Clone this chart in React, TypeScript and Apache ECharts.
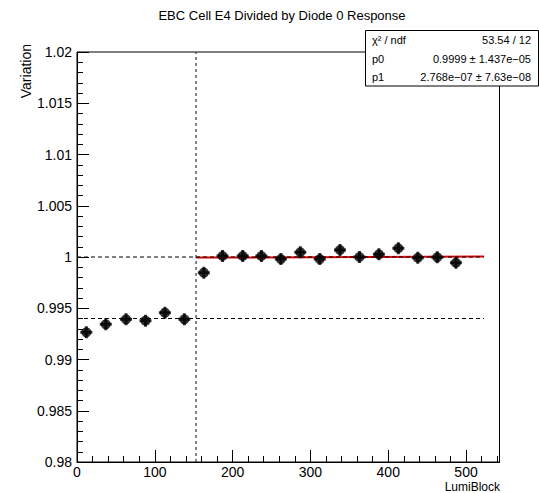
import React, { useEffect, useRef } from "react";
import * as echarts from "echarts";

const lumiBlocks = [12, 37, 63, 88, 113, 138, 163, 187, 213, 237, 262, 287, 312, 338, 363, 388, 413, 438, 463, 487];
const variation = [0.99265, 0.99343, 0.99392, 0.99379, 0.99457, 0.99392, 0.99847, 1.0001, 1.0001, 1.0001, 0.9998, 1.00046, 0.9998, 1.00068, 1.0, 1.00026, 1.00085, 0.99993, 0.99997, 0.99944];
const fitLine = [[153, 0.99994], [523, 1.00004]];
const refLevels = [1.0, 0.994];
const refXStart = 0;
const refXEnd = 523;
const cutLumiBlock = 153;
const statsRows = [
  ["χ² / ndf", "53.54 / 12"],
  ["p0", "0.9999 ± 1.437e−05"],
  ["p1", "2.768e−07 ± 7.63e−08"],
];
const titleText = "EBC Cell E4 Divided by Diode 0 Response";
const xTitle = "LumiBlock";
const yTitle = "Variation";

const FONT = "Liberation Sans, Arial, Helvetica, sans-serif";

export default function App() {
  const ref = useRef<HTMLDivElement>(null);
  useEffect(() => {
    if (!ref.current) return;
    const chart = echarts.init(ref.current, undefined, { renderer: "svg" });
    const pts = lumiBlocks.map((x, i) => [x, variation[i]]);
    const dashedSeries: any[] = refLevels.map((lv) => ({
      type: "line",
      data: [[refXStart, lv], [refXEnd, lv]],
      symbol: "none",
      lineStyle: { color: "#000", width: 1, type: [4, 3] },
      z: 4,
      silent: true,
    }));
    dashedSeries.push({
      type: "line",
      data: [[cutLumiBlock, 0.98], [cutLumiBlock, 1.02]],
      symbol: "none",
      lineStyle: { color: "#333", width: 1.2, type: [3, 3] },
      z: 4,
      silent: true,
    });
    const statsX = 365, statsY = 30, statsW = 173, rowH = 18.5;
    const graphics: any[] = [
      {
        type: "text",
        x: 282,
        y: 15,
        style: { text: titleText, font: `13px ${FONT}`, fill: "#000", align: "center", verticalAlign: "middle" },
      },
      {
        type: "text",
        x: 26,
        y: 44,
        rotation: Math.PI / 2,
        style: { text: yTitle, font: `14px ${FONT}`, fill: "#000", align: "right", verticalAlign: "middle" },
      },
      {
        type: "text",
        x: 500,
        y: 481,
        style: { text: xTitle, font: `12px ${FONT}`, fill: "#000", align: "right", verticalAlign: "top" },
      },
      {
        type: "rect",
        shape: { x: statsX + 0.5, y: statsY + 0.5, width: statsW, height: rowH * 3 },
        style: { fill: "#fff", stroke: "#000", lineWidth: 1 },
        z: 10,
      },
    ];
    statsRows.forEach((r, i) => {
      graphics.push({
        type: "text",
        x: statsX + 7,
        y: statsY + rowH * i + rowH / 2 + 1,
        z: 11,
        style: { text: r[0], font: `11px ${FONT}`, fill: "#000", align: "left", verticalAlign: "middle" },
      });
      graphics.push({
        type: "text",
        x: statsX + statsW - 7,
        y: statsY + rowH * i + rowH / 2 + 1,
        z: 11,
        style: { text: r[1], font: `11px ${FONT}`, fill: "#000", align: "right", verticalAlign: "middle" },
      });
    });

    chart.setOption({
      animation: false,
      textStyle: { fontFamily: FONT },
      grid: {
        left: 77,
        top: 52,
        right: 39.5,
        bottom: 31,
        show: true,
        borderColor: "#000",
        borderWidth: 1,
        backgroundColor: "transparent",
      },
      xAxis: {
        type: "value",
        min: 0,
        max: 543,
        interval: 100,
        axisLine: { show: true, lineStyle: { color: "#000", width: 1 } },
        axisTick: { show: true, inside: true, length: 12, lineStyle: { color: "#000" } },
        minorTick: { show: true, splitNumber: 5, length: 6, lineStyle: { color: "#000" } },
        splitLine: { show: false },
        axisLabel: { color: "#000", fontSize: 14, fontFamily: FONT, margin: 3, showMaxLabel: false },
      },
      yAxis: {
        type: "value",
        min: 0.98,
        max: 1.02,
        interval: 0.005,
        axisLine: { show: true, lineStyle: { color: "#000", width: 1 } },
        axisTick: { show: true, inside: true, length: 12, lineStyle: { color: "#000" } },
        minorTick: { show: true, splitNumber: 5, length: 6, lineStyle: { color: "#000" } },
        splitLine: { show: false },
        axisLabel: {
          color: "#000",
          fontSize: 14,
          fontFamily: FONT,
          margin: 5,
          formatter: (v: number) => String(parseFloat(v.toFixed(4))),
        },
      },
      series: [
        {
          type: "line",
          data: fitLine,
          symbol: "none",
          lineStyle: { color: "#e00000", width: 2 },
          z: 3,
          silent: true,
        },
        ...dashedSeries,
        {
          type: "scatter",
          data: pts,
          symbol: "circle",
          symbolSize: 10,
          itemStyle: { color: "#000" },
          z: 6,
        },
        {
          type: "scatter",
          data: pts,
          symbol: "path://M4.5,0H7.5V4.5H12V7.5H7.5V12H4.5V7.5H0V4.5H4.5Z",
          symbolSize: 12,
          itemStyle: { color: "#000" },
          z: 6,
        },
      ],
      graphic: graphics,
    });
    return () => chart.dispose();
  }, []);
  return <div ref={ref} style={{ position: "absolute", left: 0, top: 0, width: 539, height: 493, background: "#fff" }} />;
}
